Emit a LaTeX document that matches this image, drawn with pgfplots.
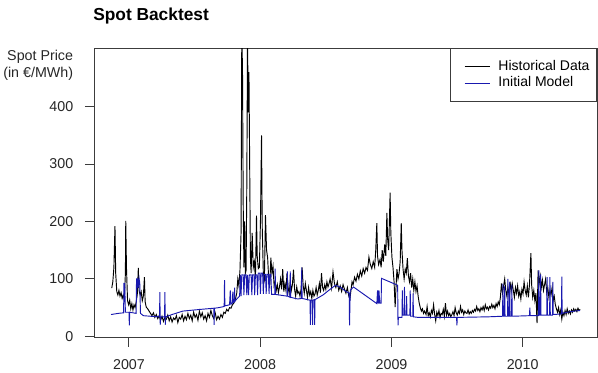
\documentclass[border=0pt]{standalone}
\usepackage{fontspec}
\setmainfont{Liberation Sans}
\usepackage{pgfplots}
\usepackage{pgfplotstable}
\pgfplotsset{compat=1.18}

\definecolor{modelblue}{RGB}{25,25,175}
\definecolor{framegray}{RGB}{60,60,60}

% day = days since 1 Jan 2007
\pgfplotstableread{
day price
-48 84
-45 95
-42 120
-39 192
-37 110
-34 78
-31 72
-28 80
-25 70
-22 76
-19 66
-16 72
-13 64
-10 110
-9 201
-7 120
-4 62
-1 55
2 63
5 48
8 57
11 46
14 55
17 50
20 60
23 72
26 119
28 80
31 72
34 78
37 62
40 70
43 103
45 60
48 51
52 48
56 44
60 40
64 36
68 41
72 33
76 38
80 31
84 36
88 28
92 35
96 26
100 33
104 30
108 37
112 27
116 34
120 25
124 32
128 29
132 36
136 24
140 33
144 30
148 38
152 27
156 35
160 29
164 40
168 31
172 37
176 27
180 42
184 33
188 38
192 28
196 44
200 34
204 41
208 30
212 36
216 27
220 40
224 33
228 45
232 36
236 31
240 41
244 29
248 35
252 30
256 38
260 33
264 42
268 40
272 47
276 44
280 50
284 49
288 55
292 58
296 64
300 75
303 100
306 88
309 115
312 180
314 520
316 470
318 230
320 120
322 200
324 110
326 115
328 260
330 520
332 390
334 460
336 300
338 140
340 110
343 180
346 120
349 130
352 100
355 210
357 140
360 118
363 120
366 200
369 350
371 190
374 110
377 100
380 211
383 150
386 137
389 100
392 90
395 137
398 110
401 122
404 88
407 95
410 80
413 90
416 76
419 86
422 100
425 82
428 117
431 78
434 92
437 80
440 110
443 85
446 75
449 95
452 80
455 90
458 116
461 82
464 70
467 86
470 75
473 78
476 70
479 82
482 120
485 88
488 75
491 92
494 80
497 68
500 85
503 72
506 78
509 66
512 80
515 70
518 74
521 85
524 72
527 80
530 92
533 76
536 110
539 85
542 80
545 90
548 82
551 95
554 86
557 92
560 100
564 84
568 112
572 92
576 85
580 95
584 80
588 88
592 78
596 90
600 82
604 75
608 85
612 70
615 65
618 80
621 95
624 90
628 103
632 96
636 108
640 100
644 114
648 105
652 118
656 110
660 120
664 115
668 138
672 125
676 118
680 130
684 120
687 150
690 197
692 140
695 125
699 134
702 120
705 150
708 130
712 160
715 140
718 215
720 170
723 150
727 250
729 180
732 138
735 120
738 95
741 51
743 80
746 117
749 100
752 110
755 130
758 197
760 150
763 117
766 100
769 117
772 110
775 136
778 105
781 95
784 110
787 85
790 100
793 80
796 95
799 78
802 88
805 70
808 58
811 50
814 44
817 48
820 40
823 44
827 38
830 52
833 36
836 41
839 34
842 45
845 40
848 55
851 38
854 27
857 42
860 36
863 45
866 33
869 40
872 38
875 47
878 35
881 58
884 37
887 44
890 36
893 40
896 34
899 38
902 43
905 36
908 50
911 41
914 37
917 44
920 40
923 52
926 42
929 46
932 38
935 44
938 41
941 40
944 46
947 39
950 43
953 40
956 45
959 42
962 47
965 44
968 52
971 45
974 48
977 43
980 50
983 46
986 52
989 45
992 55
995 48
998 51
1001 46
1004 52
1007 49
1010 56
1013 50
1016 54
1019 48
1022 57
1025 52
1028 60
1031 55
1034 68
1037 92
1040 75
1043 88
1046 100
1049 80
1052 70
1055 86
1058 72
1061 95
1064 78
1067 92
1070 80
1073 68
1076 85
1079 75
1082 88
1085 70
1088 78
1091 65
1094 82
1097 74
1100 95
1103 80
1106 72
1109 88
1112 68
1115 90
1119 145
1121 90
1124 68
1127 80
1130 62
1133 75
1136 23
1139 115
1142 92
1145 105
1148 85
1151 98
1154 80
1157 90
1160 100
1163 76
1166 85
1169 68
1172 80
1175 72
1178 85
1181 62
1184 70
1187 55
1190 48
1193 42
1196 50
1199 38
1202 46
1205 30
1208 42
1211 36
1214 45
1217 38
1220 48
1223 40
1226 44
1229 39
1232 46
1235 42
1238 48
1241 44
1244 47
1247 43
1250 49
1253 45
1256 47
}\histdata

\pgfplotstableread{
day price
-50 38
-40 39
-30 40
-15 41
-14 93
-13 60
-12 93
-11 70
-10 42
0 42
1 19
2 42
20 40
21 101
22 80
24 101
26 85
28 101
30 93
32 40
40 36
60 35
85 34
86 77
87 20
88 34
99 34
100 77
101 20
102 34
120 38
150 44
200 47
236 49
237 20
238 49
250 50
265 52
266 98
267 53
280 55
282 80
284 56
288 58
289 78
290 59
293 60
294 85
295 61
300 65
308 70
310 107
312 70
314 107
318 107
320 72
322 107
326 107
328 72
330 107
333 72
335 107
340 107
342 72
344 107
348 107
350 72
352 107
356 107
358 72
360 110
364 110
366 74
368 110
372 110
374 74
376 108
380 108
382 74
384 108
388 108
390 74
392 108
395 108
397 73
406 73
407 118
408 73
440 70
441 113
442 70
448 68
449 113
450 68
470 65
480 66
481 120
482 66
504 63
505 20
506 63
510 63
511 20
512 63
516 64
517 20
518 64
540 72
560 82
575 89
590 85
600 80
613 75
614 19
616 80
625 86
690 57
692 80
694 57
696 80
698 58
702 58
703 101
748 89
749 19
750 33
760 33
761 80
762 37
766 37
767 86
768 37
772 37
773 70
774 37
782 37
783 80
784 35
790 35
791 75
792 34
805 33
912 33
913 19
914 33
1000 34
1040 35
1041 92
1042 35
1045 35
1046 87
1047 35
1054 35
1055 100
1056 35
1059 35
1060 95
1061 35
1065 35
1066 90
1067 35
1115 36
1116 50
1117 36
1140 36
1141 115
1142 37
1145 37
1146 108
1147 37
1163 37
1164 103
1165 37
1171 37
1172 103
1173 37
1179 37
1180 95
1181 38
1204 39
1205 104
1206 40
1220 42
1240 44
1256 45
}\modeldata

\begin{document}
\begin{tikzpicture}
\begin{axis}[
  scale only axis,
  width=377.25pt, height=217.125pt,
  xmin=-97.4, xmax=1303,
  ymin=-2, ymax=502,
  axis line style={framegray, line width=0.75pt},
  tick style={framegray, line width=0.75pt},
  tick align=outside,
  major tick length=6.75pt,
  xtick pos=bottom, ytick pos=left,
  xtick={0,365,731,1096},
  xticklabels={2007,2008,2009,2010},
  ytick={0,100,200,300,400},
  /pgf/number format/assume math mode=true,
  tick label style={font=\fontsize{10.7}{12}\selectfont, text=black!85},
  xticklabel style={inner sep=0pt, anchor=north, yshift=-9.4pt},
  yticklabel style={inner sep=0pt, anchor=east, xshift=-8.6pt},
  legend cell align=left,
  legend style={
    at={(1,1)}, anchor=north east,
    draw=framegray, line width=0.75pt, fill=white,
    inner xsep=3.25pt, inner ysep=7.75pt,
    font=\fontsize{10.5}{12}\selectfont,
    nodes={inner xsep=2pt, inner ysep=0.5pt, text height=8pt, text depth=2.5pt},
    row sep=1pt,
    /tikz/every odd column/.append style={column sep=4pt},
  },
  legend image code/.code={
    \path (0pt,0pt);
    \draw[#1, line width=0.6pt] (7pt,0pt) -- (26pt,0pt);
  },
]
\addplot[black, line width=0.7pt] table[x=day, y=price] {\histdata};
\addlegendentry{Historical Data}
\addplot[modelblue, line width=0.7pt] table[x=day, y=price] {\modeldata};
\addlegendentry{Initial Model}
\end{axis}

\node[anchor=base west, inner sep=0pt, font=\fontsize{13}{15}\selectfont\bfseries, xshift=-0.75pt, yshift=20.25pt]
  at (current axis.north west) {Spot Backtest};
\node[anchor=base east, inner sep=0pt, font=\fontsize{10.7}{12}\selectfont, text=black!85, xshift=-15.5pt, yshift=-9pt]
  at (current axis.north west) {Spot Price};
\node[anchor=base east, inner sep=0pt, font=\fontsize{10.7}{12}\selectfont, text=black!85, xshift=-15.5pt, yshift=-21.75pt]
  at (current axis.north west) {(in €/MWh)};

\pgfresetboundingbox
\path[use as bounding box] (current axis.south west) ++(-70.5pt,-25.875pt) rectangle ++(448.5pt,279pt);
\end{tikzpicture}
\end{document}
